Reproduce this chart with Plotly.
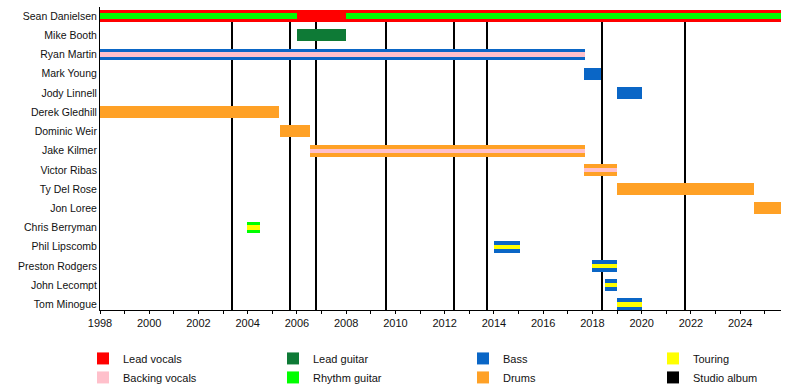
import plotly.graph_objects as go

# ---------------- data ----------------
members = ["Sean Danielsen", "Mike Booth", "Ryan Martin", "Mark Young", "Jody Linnell",
           "Derek Gledhill", "Dominic Weir", "Jake Kilmer", "Victor Ribas", "Ty Del Rose",
           "Jon Loree", "Chris Berryman", "Phil Lipscomb", "Preston Rodgers", "John Lecompt",
           "Tom Minogue"]

END = 2025.66
START = 1998.0

period_member = ["Sean Danielsen", "Sean Danielsen", "Sean Danielsen", "Mike Booth",
                 "Ryan Martin", "Ryan Martin", "Mark Young", "Jody Linnell",
                 "Derek Gledhill", "Dominic Weir", "Jake Kilmer", "Jake Kilmer",
                 "Victor Ribas", "Victor Ribas", "Ty Del Rose", "Jon Loree",
                 "Chris Berryman", "Chris Berryman", "Phil Lipscomb", "Phil Lipscomb",
                 "Preston Rodgers", "Preston Rodgers", "John Lecompt", "John Lecompt",
                 "Tom Minogue", "Tom Minogue"]
period_role = ["Lead vocals", "Rhythm guitar", "Rhythm guitar", "Lead guitar",
               "Bass", "Backing vocals", "Bass", "Bass",
               "Drums", "Drums", "Drums", "Backing vocals",
               "Drums", "Backing vocals", "Drums", "Drums",
               "Rhythm guitar", "Touring", "Bass", "Touring",
               "Bass", "Touring", "Bass", "Touring",
               "Bass", "Touring"]
period_kind = ["main", "extra", "extra", "main",
               "main", "extra", "main", "main",
               "main", "main", "main", "extra",
               "main", "extra", "main", "main",
               "main", "extra", "main", "extra",
               "main", "extra", "main", "extra",
               "main", "extra"]
period_start = [1998.0, 1998.0, 2008.0, 2006.0,
                1998.0, 1998.0, 2017.66, 2019.0,
                1998.0, 2005.3, 2006.53, 2006.53,
                2017.66, 2017.66, 2019.0, 2024.56,
                2003.98, 2003.98, 2014.0, 2014.0,
                2018.0, 2018.0, 2018.5, 2018.5,
                2019.0, 2019.0]
period_end = [END, 2006.0, END, 2008.0,
              2017.7, 2017.7, 2018.35, 2020.0,
              2005.27, 2006.53, 2017.7, 2017.7,
              2019.0, 2019.0, 2024.56, END,
              2004.5, 2004.5, 2015.05, 2015.05,
              2019.0, 2019.0, 2019.0, 2019.0,
              2020.0, 2020.0]

album_years = [2003.36, 2005.72, 2006.77, 2009.62, 2012.38, 2013.72, 2018.39, 2021.76]

tick_years = list(range(1998, 2025, 2))

# ---------------- styles ----------------
role_colors = {
    "Lead vocals": "#FF0000",
    "Backing vocals": "#FFC0CB",
    "Lead guitar": "#0E7A36",
    "Rhythm guitar": "#00FF00",
    "Bass": "#0A66C6",
    "Drums": "#FFA126",
    "Touring": "#FFFF00",
    "Studio album": "#000000",
}
legend_slot = {  # (legend id, rank)
    "Lead vocals": ("legend", 1), "Backing vocals": ("legend", 2),
    "Lead guitar": ("legend2", 1), "Rhythm guitar": ("legend2", 2),
    "Bass": ("legend3", 1), "Drums": ("legend3", 2),
    "Touring": ("legend4", 1), "Studio album": ("legend4", 2),
}
MAIN_W = 0.62
EXTRA_W = {"Rhythm guitar": 0.35, "Backing vocals": 0.22, "Touring": 0.22}
Y_TOP, Y_BOT = -0.47, 15.29

fig = go.Figure()

# studio album lines (drawn first, beneath the bars)
fig.add_trace(go.Bar(
    x=album_years, y=[Y_BOT] * len(album_years), base=0, orientation="v",
    width=0.11, marker=dict(color=role_colors["Studio album"], line_width=0),
    name="Studio album", legend=legend_slot["Studio album"][0],
    legendrank=legend_slot["Studio album"][1], hoverinfo="skip",
))

shown = set()
for kind in ["main", "extra"]:
    roles_in_kind = []
    for r, k in zip(period_role, period_kind):
        if k == kind and r not in roles_in_kind:
            roles_in_kind.append(r)
    for role in roles_in_kind:
        idx = [i for i in range(len(period_role)) if period_role[i] == role and period_kind[i] == kind]
        ys = [members.index(period_member[i]) for i in idx]
        base = [period_start[i] for i in idx]
        lens = [period_end[i] - period_start[i] for i in idx]
        w = MAIN_W if kind == "main" else EXTRA_W[role]
        lg, rank = legend_slot[role]
        fig.add_trace(go.Bar(
            x=lens, y=ys, base=base, orientation="h", width=w,
            marker=dict(color=role_colors[role], line_width=0),
            name=role, legend=lg, legendrank=rank,
            showlegend=role not in shown, hoverinfo="skip",
        ))
        shown.add(role)

font = dict(family="Liberation Sans, Arial, sans-serif", size=11, color="#111")
yfont = dict(family="Liberation Sans, Arial, sans-serif", size=10.5, color="#111")

def legend_at(px_left):
    return dict(x=(px_left - 100) / 681, xanchor="left", y=-0.112, yanchor="top",
                orientation="v", font=font, bgcolor="rgba(0,0,0,0)",
                itemclick=False, itemdoubleclick=False, traceorder="normal")

fig.update_layout(
    width=800, height=390,
    margin=dict(l=100, r=19, t=7, b=80, autoexpand=False),
    paper_bgcolor="white", plot_bgcolor="white",
    barmode="overlay", bargap=0,
    font=font,
    showlegend=True,
    legend=legend_at(83), legend2=legend_at(273), legend3=legend_at(463), legend4=legend_at(653),
    xaxis=dict(range=[START, END], tickvals=tick_years, ticks="outside", ticklen=3,
               tickcolor="black", tickwidth=1, automargin=False,
               minor=dict(dtick=1, tick0=1998, ticks="outside", ticklen=3, tickcolor="black"),
               showline=True, linecolor="black", linewidth=1, showgrid=False, zeroline=False,
               fixedrange=True),
    yaxis=dict(range=[Y_BOT, Y_TOP], tickvals=list(range(len(members))), ticktext=members,
               tickfont=yfont, automargin=False,
               ticks="", showline=True, linecolor="black", linewidth=1, showgrid=False,
               zeroline=False, fixedrange=True),
)

fig.write_html("out.html", config={"displayModeBar": False},
               post_script="document.body.style.margin='0';")
